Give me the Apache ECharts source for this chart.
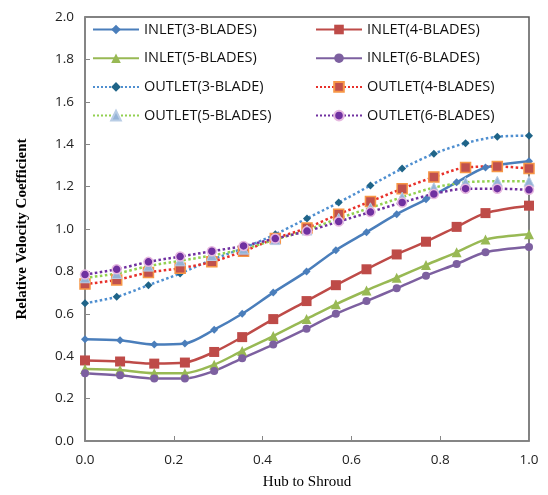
<!DOCTYPE html>
<html><head><meta charset="utf-8">
<script src="https://cdn.jsdelivr.net/npm/echarts@6/dist/echarts.min.js"></script>
<style>html,body{margin:0;padding:0;background:#fff}#c{width:548px;height:495px}</style>
</head><body><div id="c"></div>
<script>
// ---- data ----
var xInlet  = [0, 0.079, 0.156, 0.225, 0.291, 0.354, 0.424, 0.499, 0.565, 0.634, 0.702, 0.768, 0.837, 0.902, 1.0];
var xOutlet = [0, 0.0714, 0.1429, 0.2143, 0.2857, 0.3571, 0.4286, 0.5, 0.5714, 0.6429, 0.7143, 0.7857, 0.8571, 0.9286, 1.0];
var inlet3  = [0.48, 0.475, 0.455, 0.46, 0.525, 0.60, 0.70, 0.80, 0.90, 0.985, 1.07, 1.14, 1.22, 1.29, 1.32];
var inlet4  = [0.38, 0.375, 0.365, 0.37, 0.42, 0.49, 0.575, 0.66, 0.735, 0.81, 0.88, 0.94, 1.01, 1.075, 1.11];
var inlet5  = [0.34, 0.335, 0.32, 0.32, 0.36, 0.425, 0.495, 0.575, 0.645, 0.71, 0.77, 0.83, 0.89, 0.95, 0.975];
var inlet6  = [0.32, 0.31, 0.295, 0.295, 0.33, 0.39, 0.455, 0.53, 0.60, 0.66, 0.72, 0.78, 0.835, 0.89, 0.915];
var outlet3 = [0.65, 0.68, 0.735, 0.79, 0.855, 0.91, 0.975, 1.05, 1.125, 1.205, 1.285, 1.355, 1.405, 1.435, 1.44];
var outlet4 = [0.74, 0.76, 0.795, 0.815, 0.845, 0.895, 0.955, 1.005, 1.07, 1.13, 1.19, 1.245, 1.29, 1.295, 1.285];
var outlet5 = [0.77, 0.79, 0.825, 0.85, 0.875, 0.905, 0.95, 0.995, 1.05, 1.10, 1.15, 1.195, 1.22, 1.225, 1.225];
var outlet6 = [0.785, 0.81, 0.845, 0.87, 0.895, 0.92, 0.955, 0.99, 1.035, 1.08, 1.125, 1.165, 1.19, 1.19, 1.185];
var names = ['INLET(3-BLADES)', 'INLET(4-BLADES)', 'INLET(5-BLADES)', 'INLET(6-BLADES)',
             'OUTLET(3-BLADE)', 'OUTLET(4-BLADES)', 'OUTLET(5-BLADES)', 'OUTLET(6-BLADES)'];
var xTitle = 'Hub to Shroud';
var yTitle = 'Relative Velocity Coefficient';

function pairs(xs, ys) { return ys.map(function (v, i) { return [xs[i], v]; }); }

function mk(name, xs, ys, lineColor, lineType, symbol, size, fill, border, bw) {
  return {
    name: name, type: 'line', smooth: 0.3, data: pairs(xs, ys),
    symbol: symbol, symbolSize: size, showSymbol: true,
    lineStyle: { color: lineColor, width: 2.5, type: lineType },
    itemStyle: { color: fill, borderColor: border, borderWidth: bw },
    emphasis: { disabled: true }, animation: false
  };
}

var series = [
  mk(names[0], xInlet, inlet3, '#4A7EBB', 'solid', 'diamond', 8, '#4A7EBB', '#4A7EBB', 0),
  mk(names[1], xInlet, inlet4, '#BE4B48', 'solid', 'rect', 10, '#BE4B48', '#BE4B48', 0),
  mk(names[2], xInlet, inlet5, '#98B954', 'solid', 'triangle', 10, '#98B954', '#98B954', 0),
  mk(names[3], xInlet, inlet6, '#7D60A0', 'solid', 'circle', 8, '#7D60A0', '#7D60A0', 0),
  mk(names[4], xOutlet, outlet3, '#4F8FD0', 'dotted', 'diamond', 8, '#1F6488', '#1F6488', 0),
  mk(names[5], xOutlet, outlet4, '#E8302A', 'dotted', 'rect', 10, '#C0504D', '#F79646', 1.5),
  mk(names[6], xOutlet, outlet5, '#92D050', 'dotted', 'triangle', 10, '#95B3D7', '#B9CDE5', 1),
  mk(names[7], xOutlet, outlet6, '#7030A0', 'dotted', 'circle', 9, '#7030A0', '#E6B9E0', 1.5)
];

var chart = echarts.init(document.getElementById('c'), null, { renderer: 'canvas' });
var legendText = { fontFamily: 'Open Sans', fontSize: 14.5, color: '#111', lineHeight: 14 };
chart.setOption({
  animation: false,
  backgroundColor: '#fff',
  grid: { left: 85, right: 19, top: 17, bottom: 48, show: true, borderColor: '#595959', borderWidth: 1.5, containLabel: false },
  legend: [
    { data: [names[0], names[2], names[4], names[6]], orient: 'vertical', left: 92, top: 22, padding: 0,
      itemWidth: 46, itemHeight: 12, itemGap: 13.7, textStyle: legendText, selectedMode: false },
    { data: [names[1], names[3], names[5], names[7]], orient: 'vertical', left: 315, top: 22, padding: 0,
      itemWidth: 46, itemHeight: 12, itemGap: 13.7, textStyle: legendText, selectedMode: false }
  ],
  xAxis: {
    type: 'value', min: 0, max: 1, interval: 0.2,
    name: xTitle, nameLocation: 'middle', nameGap: 34,
    nameTextStyle: { fontFamily: 'Liberation Serif', fontSize: 15, color: '#000' },
    axisLine: { show: true, lineStyle: { color: '#868686', width: 1.5 } },
    axisTick: { show: true, inside: true, length: 5, lineStyle: { color: '#868686' } },
    axisLabel: { fontFamily: 'Open Sans', fontSize: 13.5, color: '#222', margin: 12,
      formatter: function (v) { return v.toFixed(1); } },
    splitLine: { show: false }
  },
  yAxis: {
    type: 'value', min: 0, max: 2, interval: 0.2,
    name: yTitle, nameLocation: 'middle', nameGap: 55, nameRotate: 90,
    nameTextStyle: { fontFamily: 'Liberation Serif', fontSize: 15, fontWeight: 'bold', color: '#000' },
    axisLine: { show: true, lineStyle: { color: '#868686', width: 1.5 } },
    axisTick: { show: true, inside: true, length: 5, lineStyle: { color: '#868686' } },
    axisLabel: { fontFamily: 'Open Sans', fontSize: 13.5, color: '#222', margin: 11,
      formatter: function (v) { return v.toFixed(1); } },
    splitLine: { show: false }
  },
  series: series
});
</script></body></html>
